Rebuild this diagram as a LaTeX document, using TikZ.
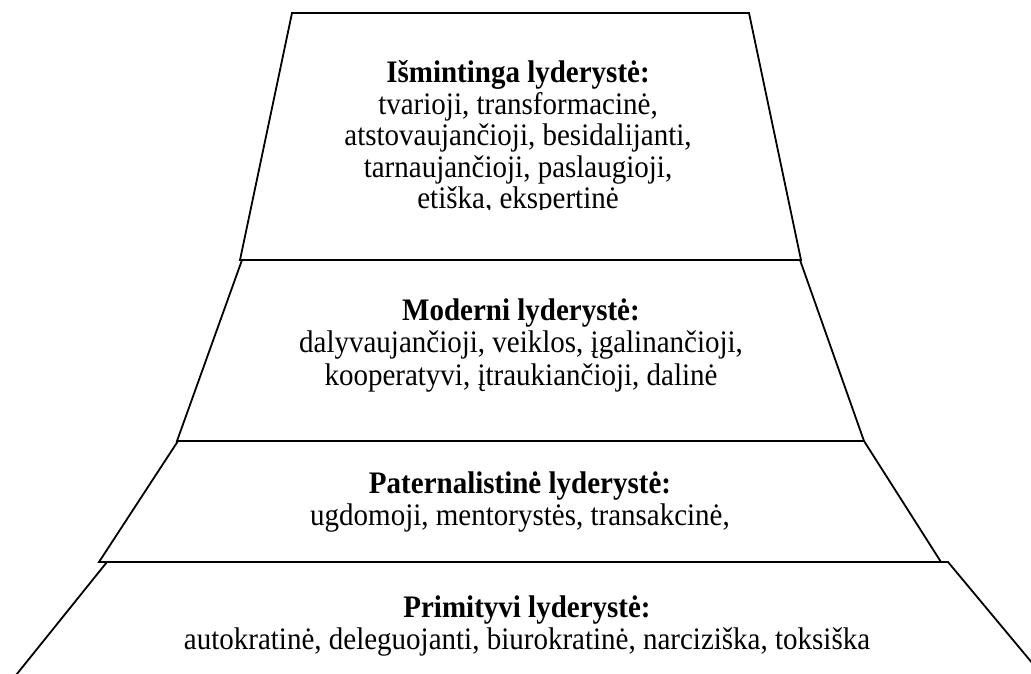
\documentclass[tikz,border=0pt]{standalone}
\usepackage{fontspec}
\usepackage{graphicx}
\setmainfont{Liberation Serif}
\newcommand{\tallbox}[1]{\scalebox{1}[1.08]{#1}}
\begin{document}
\begin{tikzpicture}[x=1pt,y=-1pt,
  tier/.style={draw=black,line width=1.8pt,line join=miter},
  lbl/.style={inner sep=0pt,anchor=base,font=\fontsize{29pt}{30.1pt}\selectfont}]
\clip (0,0) rectangle (1031,674);
\fill[white] (0,0) rectangle (1031,674);
% tiers
\draw[tier] (292,13) -- (749,13) -- (801,260) -- (240,260) -- cycle;
\draw[tier] (242,260) -- (800,260) -- (864,441) -- (177,441) -- cycle;
\draw[tier] (178,441) -- (864,441) -- (941,562) -- (99,562) -- cycle;
\draw[tier] (-4,700) -- (107,562) -- (948,562) -- (1063,700);
% texts
\begin{scope}
\clip (250,20) rectangle (790,209.5);
\node[lbl,font=\fontsize{29pt}{29pt}\selectfont] (wise) at (518,83)
  {\tallbox{\begin{tabular}[t]{@{}c@{}}\textbf{Išmintinga lyderystė:}\\ tvarioji, transformacinė,\\ atstovaujančioji, besidalijanti,\\ tarnaujančioji, paslaugioji,\\ etiška, ekspertinė\end{tabular}}};
\end{scope}
\node[lbl] (modern) at (521,320)
  {\tallbox{\begin{tabular}[t]{@{}c@{}}\textbf{Moderni lyderystė:}\\ dalyvaujančioji, veiklos, įgalinančioji,\\ kooperatyvi, įtraukiančioji, dalinė\end{tabular}}};
\node[lbl] (pater) at (520,493)
  {\tallbox{\begin{tabular}[t]{@{}c@{}}\textbf{Paternalistinė lyderystė:}\\ ugdomoji, mentorystės, transakcinė,\end{tabular}}};
\node[lbl] (prim) at (527,617)
  {\tallbox{\begin{tabular}[t]{@{}c@{}}\textbf{Primityvi lyderystė:}\\ autokratinė, deleguojanti, biurokratinė, narciziška, toksiška\end{tabular}}};
\end{tikzpicture}
\end{document}
